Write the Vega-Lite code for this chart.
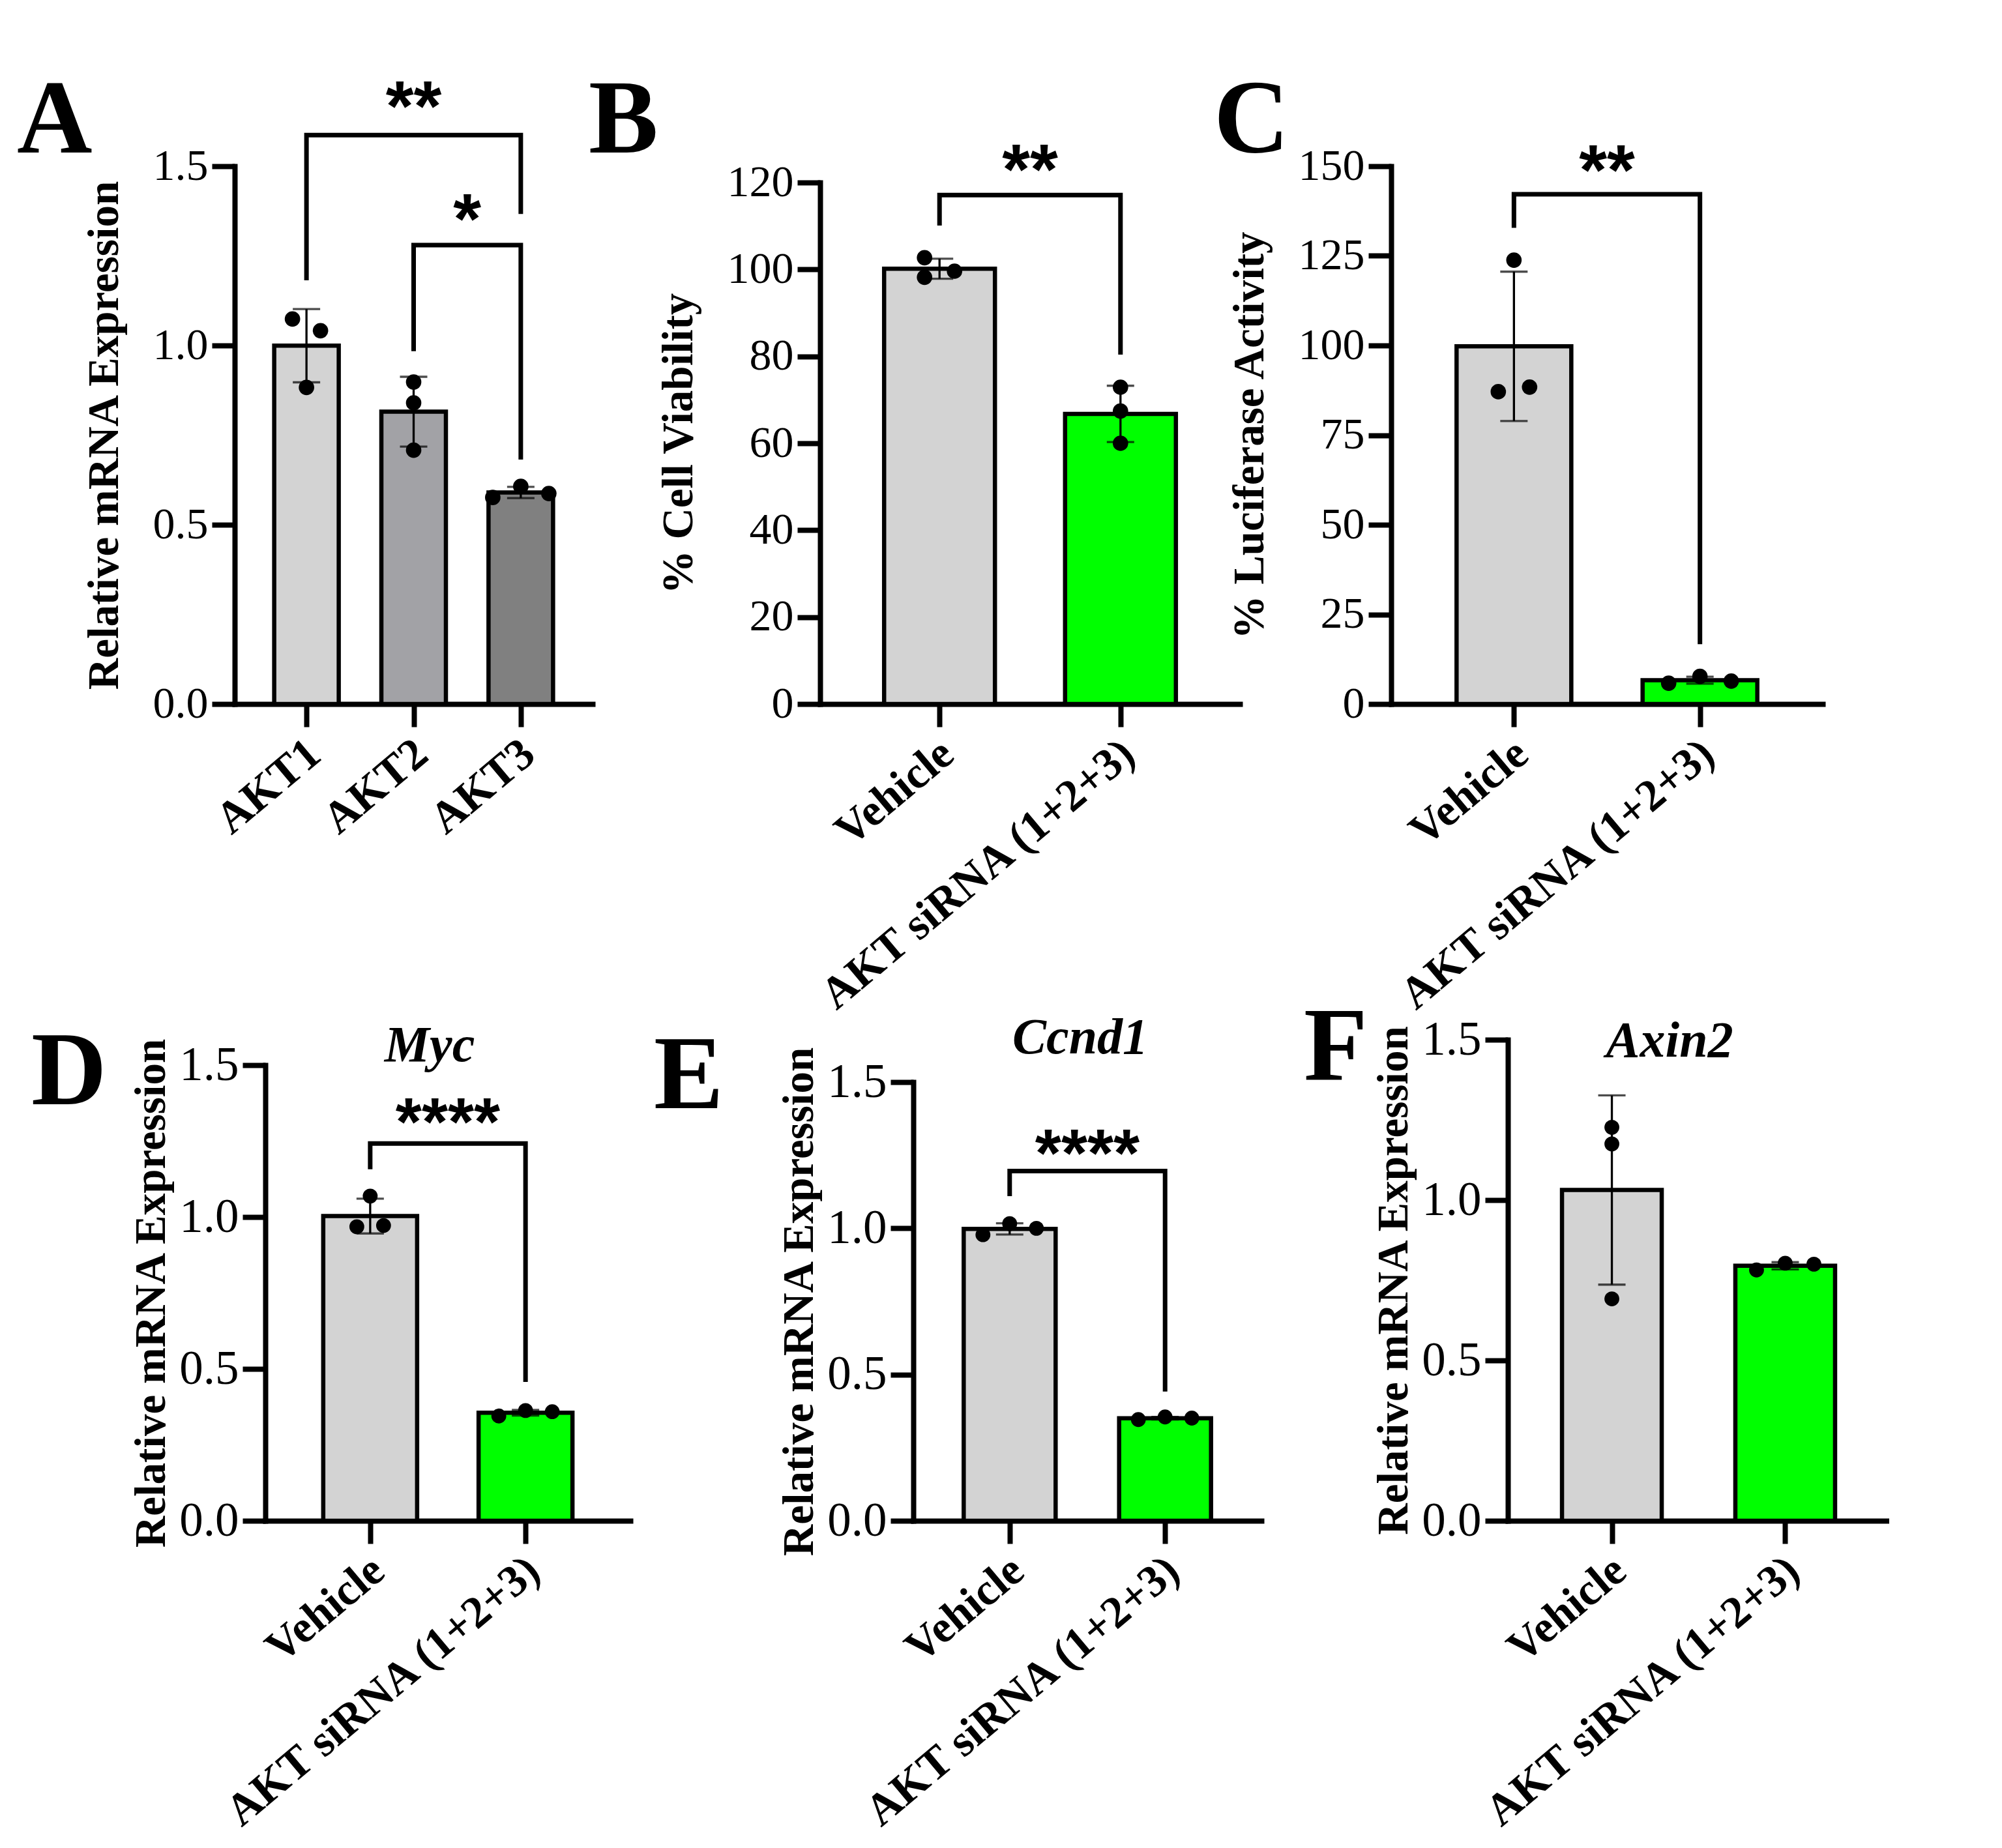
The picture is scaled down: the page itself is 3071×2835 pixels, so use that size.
{
  "$schema": "https://vega.github.io/schema/vega-lite/v6.json",
  "background": "white",
  "padding": {"left": 0, "top": 104, "right": 0, "bottom": 0},
  "config": {
    "font": "Liberation Serif",
    "view": {"stroke": null},
    "axis": {"grid": false, "domainColor": "#000", "domainWidth": 8, "domainCap": "square", "tickColor": "#000", "tickWidth": 8, "tickSize": 35, "labelColor": "#000", "labelFont": "Liberation Serif", "titleColor": "#000", "titleFont": "Liberation Serif", "titleFontWeight": "bold", "titleFontSize": 67, "labelLimit": 2000},
    "axisX": {"labelAngle": -40, "labelFontWeight": "bold", "labelFontSize": 69, "labelPadding": 6, "labelOffset": -10},
    "axisY": {"labelFontSize": 68, "labelPadding": 6, "titlePadding": 40},
    "title": {"font": "Liberation Serif", "fontSize": 160, "fontWeight": "bold", "color": "#000", "anchor": "start", "frame": "group", "baseline": "alphabetic", "offset": 0}
  },
  "datasets": {
    "pa": [
      {"g": "AKT1", "v": 1.074, "s": -1}, {"g": "AKT1", "v": 1.041, "s": 1}, {"g": "AKT1", "v": 0.883, "s": 0},
      {"g": "AKT2", "v": 0.898, "s": 0}, {"g": "AKT2", "v": 0.84, "s": 0}, {"g": "AKT2", "v": 0.708, "s": 0},
      {"g": "AKT3", "v": 0.576, "s": -2}, {"g": "AKT3", "v": 0.607, "s": 0}, {"g": "AKT3", "v": 0.587, "s": 2}
    ],
    "pb": [
      {"g": "Vehicle", "v": 102.7, "s": -1}, {"g": "Vehicle", "v": 98.2, "s": -1}, {"g": "Vehicle", "v": 99.6, "s": 1},
      {"g": "AKT siRNA (1+2+3)", "v": 72.9, "s": 0}, {"g": "AKT siRNA (1+2+3)", "v": 67.4, "s": 0}, {"g": "AKT siRNA (1+2+3)", "v": 60.0, "s": 0}
    ],
    "pc": [
      {"g": "Vehicle", "v": 123.8, "s": 0}, {"g": "Vehicle", "v": 87.1, "s": -1}, {"g": "Vehicle", "v": 88.4, "s": 1},
      {"g": "AKT siRNA (1+2+3)", "v": 5.8, "s": -2}, {"g": "AKT siRNA (1+2+3)", "v": 7.7, "s": 0}, {"g": "AKT siRNA (1+2+3)", "v": 6.4, "s": 2}
    ],
    "pd": [
      {"g": "Vehicle", "v": 1.069, "s": 0}, {"g": "Vehicle", "v": 0.968, "s": -1}, {"g": "Vehicle", "v": 0.972, "s": 1},
      {"g": "AKT siRNA (1+2+3)", "v": 0.345, "s": -2}, {"g": "AKT siRNA (1+2+3)", "v": 0.363, "s": 0}, {"g": "AKT siRNA (1+2+3)", "v": 0.359, "s": 2}
    ],
    "pe": [
      {"g": "Vehicle", "v": 0.978, "s": -2}, {"g": "Vehicle", "v": 1.016, "s": 0}, {"g": "Vehicle", "v": 1.0, "s": 2},
      {"g": "AKT siRNA (1+2+3)", "v": 0.346, "s": -2}, {"g": "AKT siRNA (1+2+3)", "v": 0.355, "s": 0}, {"g": "AKT siRNA (1+2+3)", "v": 0.351, "s": 2}
    ],
    "pf": [
      {"g": "Vehicle", "v": 1.227, "s": 0}, {"g": "Vehicle", "v": 1.175, "s": 0}, {"g": "Vehicle", "v": 0.692, "s": 0},
      {"g": "AKT siRNA (1+2+3)", "v": 0.782, "s": -2}, {"g": "AKT siRNA (1+2+3)", "v": 0.803, "s": 0}, {"g": "AKT siRNA (1+2+3)", "v": 0.8, "s": 2}
    ],
    "ba": [
      {"b": 1, "o": 1, "x": 0, "y": 1.182}, {"b": 1, "o": 2, "x": 0, "y": 1.587}, {"b": 1, "o": 3, "x": 2, "y": 1.587}, {"b": 1, "o": 4, "x": 2, "y": 1.367},
      {"b": 2, "o": 1, "x": 1, "y": 0.984}, {"b": 2, "o": 2, "x": 1, "y": 1.28}, {"b": 2, "o": 3, "x": 2, "y": 1.28}, {"b": 2, "o": 4, "x": 2, "y": 0.682}
    ],
    "bb": [{"b": 1, "o": 1, "x": 0, "y": 110.1}, {"b": 1, "o": 2, "x": 0, "y": 117.1}, {"b": 1, "o": 3, "x": 1, "y": 117.1}, {"b": 1, "o": 4, "x": 1, "y": 80.4}],
    "bc": [{"b": 1, "o": 1, "x": 0, "y": 132.8}, {"b": 1, "o": 2, "x": 0, "y": 142.2}, {"b": 1, "o": 3, "x": 1, "y": 142.2}, {"b": 1, "o": 4, "x": 1, "y": 16.7}],
    "bd": [{"b": 1, "o": 1, "x": 0, "y": 1.157}, {"b": 1, "o": 2, "x": 0, "y": 1.242}, {"b": 1, "o": 3, "x": 1, "y": 1.242}, {"b": 1, "o": 4, "x": 1, "y": 0.457}],
    "be": [{"b": 1, "o": 1, "x": 0, "y": 1.11}, {"b": 1, "o": 2, "x": 0, "y": 1.196}, {"b": 1, "o": 3, "x": 1, "y": 1.196}, {"b": 1, "o": 4, "x": 1, "y": 0.442}],
    "sa": [{"t": "**", "x": 1, "y": 1.6}, {"t": "*", "x": 1.5, "y": 1.286}],
    "sb": [{"t": "**", "x": 0.5, "y": 117.4}],
    "sc": [{"t": "**", "x": 0.5, "y": 142.2}],
    "sd": [{"t": "****", "x": 0.5, "y": 1.235}],
    "se": [{"t": "****", "x": 0.5, "y": 1.176}]
  },
  "columns": 6,
  "align": "each",
  "bounds": "flush",
  "spacing": {"row": 509, "column": 0},
  "resolve": {"scale": {"color": "independent", "xOffset": "independent"}},
  "concat": [
    {"width": 360, "height": 1, "data": {"values": []}, "mark": "point", "view": {"fill": "white"}},
    {
      "width": 549, "height": 825,
      "title": {"text": "A", "dx": -334, "dy": 160},
      "layer": [
        {"data": {"name": "pa"}, "mark": {"type": "bar", "stroke": "#000", "strokeWidth": 6.5, "width": 99},
         "encoding": {
           "x": {"field": "g", "type": "nominal", "sort": null, "scale": {"type": "point", "padding": 0.67}, "axis": {"title": null}},
           "y": {"field": "v", "aggregate": "mean", "type": "quantitative", "scale": {"domain": [0, 1.5], "nice": false}, "axis": {"title": "Relative mRNA Expression", "values": [0, 0.5, 1, 1.5], "format": ".1f"}},
           "color": {"field": "g", "type": "nominal", "scale": {"domain": ["AKT1", "AKT2", "AKT3"], "range": ["#d3d3d3", "#a2a2a6", "#808080"]}, "legend": null}}},
        {"data": {"name": "pa"}, "mark": {"type": "errorbar", "extent": "stdev", "color": "#000", "ticks": {"size": 42, "thickness": 3.3}, "rule": {"strokeWidth": 3.3}},
         "encoding": {"x": {"field": "g", "type": "nominal", "sort": null, "scale": {"type": "point", "padding": 0.67}, "axis": null}, "y": {"field": "v", "type": "quantitative", "scale": {"domain": [0, 1.5], "nice": false}, "axis": null}}},
        {"data": {"name": "pa"}, "mark": {"type": "point", "filled": true, "size": 560, "color": "#000", "opacity": 1},
         "encoding": {"x": {"field": "g", "type": "nominal", "sort": null, "scale": {"type": "point", "padding": 0.67}, "axis": null}, "xOffset": {"field": "s", "type": "quantitative", "scale": {"domain": [-2, 2], "range": [-43, 43]}}, "y": {"field": "v", "type": "quantitative", "scale": {"domain": [0, 1.5], "nice": false}, "axis": null}}},
        {"layer": [
          {"data": {"name": "ba"}, "mark": {"type": "line", "color": "#000", "strokeWidth": 7, "strokeJoin": "miter", "strokeCap": "butt"},
           "encoding": {"x": {"field": "x", "type": "quantitative", "scale": {"domain": [-0.67, 2.67], "nice": false, "zero": false}, "axis": null}, "y": {"field": "y", "type": "quantitative", "scale": {"domain": [0, 1.5], "nice": false}, "axis": null}, "detail": {"field": "b"}, "order": {"field": "o"}}},
          {"data": {"name": "sa"}, "mark": {"type": "text", "font": "Liberation Sans", "fontWeight": "bold", "fontSize": 110, "baseline": "alphabetic", "align": "center", "color": "#000"},
           "encoding": {"x": {"field": "x", "type": "quantitative", "axis": null}, "y": {"field": "y", "type": "quantitative", "axis": null}, "text": {"field": "t"}}}
        ]}
      ],
      "resolve": {"scale": {"x": "independent", "y": "independent"}, "axis": {"x": "independent", "y": "independent"}}
    },
    {"width": 291, "height": 1, "data": {"values": []}, "mark": "point", "view": {"fill": "white"}},
    {
      "width": 644, "height": 825,
      "title": {"text": "B", "dx": -355, "dy": 63},
      "layer": [
        {"data": {"name": "pb"}, "mark": {"type": "bar", "stroke": "#000", "strokeWidth": 6.5, "width": 170},
         "encoding": {
           "x": {"field": "g", "type": "nominal", "sort": null, "scale": {"type": "point", "padding": 0.66}, "axis": {"title": null}},
           "y": {"field": "v", "aggregate": "mean", "type": "quantitative", "scale": {"domain": [0, 120], "range": [825, 25], "nice": false}, "axis": {"title": "% Cell Viability", "values": [0, 20, 40, 60, 80, 100, 120], "format": "d"}},
           "color": {"field": "g", "type": "nominal", "scale": {"domain": ["Vehicle", "AKT siRNA (1+2+3)"], "range": ["#d3d3d3", "#00ff00"]}, "legend": null}}},
        {"data": {"name": "pb"}, "mark": {"type": "errorbar", "extent": "stdev", "color": "#000", "ticks": {"size": 42, "thickness": 3.3}, "rule": {"strokeWidth": 3.3}},
         "encoding": {"x": {"field": "g", "type": "nominal", "sort": null, "scale": {"type": "point", "padding": 0.66}, "axis": null}, "y": {"field": "v", "type": "quantitative", "scale": {"domain": [0, 120], "range": [825, 25], "nice": false}, "axis": null}}},
        {"data": {"name": "pb"}, "mark": {"type": "point", "filled": true, "size": 560, "color": "#000", "opacity": 1},
         "encoding": {"x": {"field": "g", "type": "nominal", "sort": null, "scale": {"type": "point", "padding": 0.66}, "axis": null}, "xOffset": {"field": "s", "type": "quantitative", "scale": {"domain": [-2, 2], "range": [-46, 46]}}, "y": {"field": "v", "type": "quantitative", "scale": {"domain": [0, 120], "range": [825, 25], "nice": false}, "axis": null}}},
        {"layer": [
          {"data": {"name": "bb"}, "mark": {"type": "line", "color": "#000", "strokeWidth": 7, "strokeJoin": "miter", "strokeCap": "butt"},
           "encoding": {"x": {"field": "x", "type": "quantitative", "scale": {"domain": [-0.66, 1.66], "nice": false, "zero": false}, "axis": null}, "y": {"field": "y", "type": "quantitative", "scale": {"domain": [0, 120], "range": [825, 25], "nice": false}, "axis": null}, "detail": {"field": "b"}, "order": {"field": "o"}}},
          {"data": {"name": "sb"}, "mark": {"type": "text", "font": "Liberation Sans", "fontWeight": "bold", "fontSize": 110, "baseline": "alphabetic", "align": "center", "color": "#000"},
           "encoding": {"x": {"field": "x", "type": "quantitative", "axis": null}, "y": {"field": "y", "type": "quantitative", "axis": null}, "text": {"field": "t"}}}
        ]}
      ],
      "resolve": {"scale": {"x": "independent", "y": "independent"}, "axis": {"x": "independent", "y": "independent"}}
    },
    {"width": 199, "height": 1, "data": {"values": []}, "mark": "point", "view": {"fill": "white"}},
    {
      "width": 662, "height": 825,
      "title": {"text": "C", "dx": -272, "dy": 61},
      "layer": [
        {"data": {"name": "pc"}, "mark": {"type": "bar", "stroke": "#000", "strokeWidth": 6.5, "width": 176},
         "encoding": {
           "x": {"field": "g", "type": "nominal", "sort": null, "scale": {"type": "point", "padding": 0.66}, "axis": {"title": null}},
           "y": {"field": "v", "aggregate": "mean", "type": "quantitative", "scale": {"domain": [0, 150], "nice": false}, "axis": {"title": "% Luciferase Activity", "values": [0, 25, 50, 75, 100, 125, 150], "format": "d"}},
           "color": {"field": "g", "type": "nominal", "scale": {"domain": ["Vehicle", "AKT siRNA (1+2+3)"], "range": ["#d3d3d3", "#00ff00"]}, "legend": null}}},
        {"data": {"name": "pc"}, "mark": {"type": "errorbar", "extent": "stdev", "color": "#000", "ticks": {"size": 42, "thickness": 3.3}, "rule": {"strokeWidth": 3.3}},
         "encoding": {"x": {"field": "g", "type": "nominal", "sort": null, "scale": {"type": "point", "padding": 0.66}, "axis": null}, "y": {"field": "v", "type": "quantitative", "scale": {"domain": [0, 150], "nice": false}, "axis": null}}},
        {"data": {"name": "pc"}, "mark": {"type": "point", "filled": true, "size": 560, "color": "#000", "opacity": 1},
         "encoding": {"x": {"field": "g", "type": "nominal", "sort": null, "scale": {"type": "point", "padding": 0.66}, "axis": null}, "xOffset": {"field": "s", "type": "quantitative", "scale": {"domain": [-2, 2], "range": [-48, 48]}}, "y": {"field": "v", "type": "quantitative", "scale": {"domain": [0, 150], "nice": false}, "axis": null}}},
        {"layer": [
          {"data": {"name": "bc"}, "mark": {"type": "line", "color": "#000", "strokeWidth": 7, "strokeJoin": "miter", "strokeCap": "butt"},
           "encoding": {"x": {"field": "x", "type": "quantitative", "scale": {"domain": [-0.66, 1.66], "nice": false, "zero": false}, "axis": null}, "y": {"field": "y", "type": "quantitative", "scale": {"domain": [0, 150], "nice": false}, "axis": null}, "detail": {"field": "b"}, "order": {"field": "o"}}},
          {"data": {"name": "sc"}, "mark": {"type": "text", "font": "Liberation Sans", "fontWeight": "bold", "fontSize": 110, "baseline": "alphabetic", "align": "center", "color": "#000"},
           "encoding": {"x": {"field": "x", "type": "quantitative", "axis": null}, "y": {"field": "y", "type": "quantitative", "axis": null}, "text": {"field": "t"}}}
        ]}
      ],
      "resolve": {"scale": {"x": "independent", "y": "independent"}, "axis": {"x": "independent", "y": "independent"}}
    },
    {"width": 360, "height": 1, "data": {"values": []}, "mark": "point", "view": {"fill": "white"}},
    {
      "width": 607, "height": 744,
      "title": {"text": "D", "dx": -312, "dy": 166},
      "layer": [
        {"data": {"name": "pd"}, "mark": {"type": "bar", "stroke": "#000", "strokeWidth": 6.5, "width": 144},
         "encoding": {
           "x": {"field": "g", "type": "nominal", "sort": null, "scale": {"type": "point", "padding": 0.675, "range": [47, 607]}, "axis": {"title": null}},
           "y": {"field": "v", "aggregate": "mean", "type": "quantitative", "scale": {"domain": [0, 1.5], "range": [744, 45], "nice": false}, "axis": {"title": "Relative mRNA Expression", "values": [0, 0.5, 1, 1.5], "format": ".1f", "labelFontSize": 73, "titlePadding": 8, "offset": -47}},
           "color": {"field": "g", "type": "nominal", "scale": {"domain": ["Vehicle", "AKT siRNA (1+2+3)"], "range": ["#d3d3d3", "#00ff00"]}, "legend": null}}},
        {"data": {"name": "pd"}, "mark": {"type": "errorbar", "extent": "stdev", "color": "#000", "ticks": {"size": 42, "thickness": 3.3}, "rule": {"strokeWidth": 3.3}},
         "encoding": {"x": {"field": "g", "type": "nominal", "sort": null, "scale": {"type": "point", "padding": 0.675, "range": [47, 607]}, "axis": null}, "y": {"field": "v", "type": "quantitative", "scale": {"domain": [0, 1.5], "range": [744, 45], "nice": false}, "axis": null}}},
        {"data": {"name": "pd"}, "mark": {"type": "point", "filled": true, "size": 520, "color": "#000", "opacity": 1},
         "encoding": {"x": {"field": "g", "type": "nominal", "sort": null, "scale": {"type": "point", "padding": 0.675, "range": [47, 607]}, "axis": null}, "xOffset": {"field": "s", "type": "quantitative", "scale": {"domain": [-2, 2], "range": [-41, 41]}}, "y": {"field": "v", "type": "quantitative", "scale": {"domain": [0, 1.5], "range": [744, 45], "nice": false}, "axis": null}}},
        {"layer": [
          {"data": {"name": "bd"}, "mark": {"type": "line", "color": "#000", "strokeWidth": 7, "strokeJoin": "miter", "strokeCap": "butt"},
           "encoding": {"x": {"field": "x", "type": "quantitative", "scale": {"domain": [-0.675, 1.675], "range": [47, 607], "nice": false, "zero": false}, "axis": null}, "y": {"field": "y", "type": "quantitative", "scale": {"domain": [0, 1.5], "range": [744, 45], "nice": false}, "axis": null}, "detail": {"field": "b"}, "order": {"field": "o"}}},
          {"data": {"name": "sd"}, "mark": {"type": "text", "font": "Liberation Sans", "fontWeight": "bold", "fontSize": 103, "baseline": "alphabetic", "align": "center", "color": "#000"},
           "encoding": {"x": {"field": "x", "type": "quantitative", "axis": null}, "y": {"field": "y", "type": "quantitative", "axis": null}, "text": {"field": "t"}}},
          {"data": {"values": [{"t": "Myc"}]}, "mark": {"type": "text", "font": "Liberation Serif", "fontStyle": "italic", "fontWeight": "bold", "fontSize": 78, "baseline": "alphabetic", "align": "center", "color": "#000"},
           "encoding": {"x": {"datum": 0.3825, "type": "quantitative", "axis": null}, "y": {"datum": 1.513, "type": "quantitative", "axis": null}, "text": {"field": "t"}}}
        ]}
      ],
      "resolve": {"scale": {"x": "independent", "y": "independent"}, "axis": {"x": "independent", "y": "independent"}}
    },
    {"width": 291, "height": 1, "data": {"values": []}, "mark": "point", "view": {"fill": "white"}},
    {
      "width": 677, "height": 744,
      "title": {"text": "E", "dx": -255, "dy": 184},
      "layer": [
        {"data": {"name": "pe"}, "mark": {"type": "bar", "stroke": "#000", "strokeWidth": 6.5, "width": 141},
         "encoding": {
           "x": {"field": "g", "type": "nominal", "sort": null, "scale": {"type": "point", "padding": 0.62, "range": [143, 677]}, "axis": {"title": null}},
           "y": {"field": "v", "aggregate": "mean", "type": "quantitative", "scale": {"domain": [0, 1.5], "range": [744, 71], "nice": false}, "axis": {"title": "Relative mRNA Expression", "values": [0, 0.5, 1, 1.5], "format": ".1f", "labelFontSize": 73, "titlePadding": 8, "offset": -143}},
           "color": {"field": "g", "type": "nominal", "scale": {"domain": ["Vehicle", "AKT siRNA (1+2+3)"], "range": ["#d3d3d3", "#00ff00"]}, "legend": null}}},
        {"data": {"name": "pe"}, "mark": {"type": "errorbar", "extent": "stdev", "color": "#000", "ticks": {"size": 42, "thickness": 3.3}, "rule": {"strokeWidth": 3.3}},
         "encoding": {"x": {"field": "g", "type": "nominal", "sort": null, "scale": {"type": "point", "padding": 0.62, "range": [143, 677]}, "axis": null}, "y": {"field": "v", "type": "quantitative", "scale": {"domain": [0, 1.5], "range": [744, 71], "nice": false}, "axis": null}}},
        {"data": {"name": "pe"}, "mark": {"type": "point", "filled": true, "size": 520, "color": "#000", "opacity": 1},
         "encoding": {"x": {"field": "g", "type": "nominal", "sort": null, "scale": {"type": "point", "padding": 0.62, "range": [143, 677]}, "axis": null}, "xOffset": {"field": "s", "type": "quantitative", "scale": {"domain": [-2, 2], "range": [-41, 41]}}, "y": {"field": "v", "type": "quantitative", "scale": {"domain": [0, 1.5], "range": [744, 71], "nice": false}, "axis": null}}},
        {"layer": [
          {"data": {"name": "be"}, "mark": {"type": "line", "color": "#000", "strokeWidth": 7, "strokeJoin": "miter", "strokeCap": "butt"},
           "encoding": {"x": {"field": "x", "type": "quantitative", "scale": {"domain": [-0.62, 1.62], "range": [143, 677], "nice": false, "zero": false}, "axis": null}, "y": {"field": "y", "type": "quantitative", "scale": {"domain": [0, 1.5], "range": [744, 71], "nice": false}, "axis": null}, "detail": {"field": "b"}, "order": {"field": "o"}}},
          {"data": {"name": "se"}, "mark": {"type": "text", "font": "Liberation Sans", "fontWeight": "bold", "fontSize": 103, "baseline": "alphabetic", "align": "center", "color": "#000"},
           "encoding": {"x": {"field": "x", "type": "quantitative", "axis": null}, "y": {"field": "y", "type": "quantitative", "axis": null}, "text": {"field": "t"}}},
          {"data": {"values": [{"t": "Ccnd1"}]}, "mark": {"type": "text", "font": "Liberation Serif", "fontStyle": "italic", "fontWeight": "bold", "fontSize": 78, "baseline": "alphabetic", "align": "center", "color": "#000"},
           "encoding": {"x": {"datum": 0.454, "type": "quantitative", "axis": null}, "y": {"datum": 1.598, "type": "quantitative", "axis": null}, "text": {"field": "t"}}}
        ]}
      ],
      "resolve": {"scale": {"x": "independent", "y": "independent"}, "axis": {"x": "independent", "y": "independent"}}
    },
    {"width": 199, "height": 1, "data": {"values": []}, "mark": "point", "view": {"fill": "white"}},
    {
      "width": 764, "height": 744,
      "title": {"text": "F", "dx": -134, "dy": 136},
      "layer": [
        {"data": {"name": "pf"}, "mark": {"type": "bar", "stroke": "#000", "strokeWidth": 6.5, "width": 153},
         "encoding": {
           "x": {"field": "g", "type": "nominal", "sort": null, "scale": {"type": "point", "padding": 0.6, "range": [179, 764]}, "axis": {"title": null}},
           "y": {"field": "v", "aggregate": "mean", "type": "quantitative", "scale": {"domain": [0, 1.5], "range": [744, 6], "nice": false}, "axis": {"title": "Relative mRNA Expression", "values": [0, 0.5, 1, 1.5], "format": ".1f", "labelFontSize": 73, "titlePadding": 8, "offset": -179}},
           "color": {"field": "g", "type": "nominal", "scale": {"domain": ["Vehicle", "AKT siRNA (1+2+3)"], "range": ["#d3d3d3", "#00ff00"]}, "legend": null}}},
        {"data": {"name": "pf"}, "mark": {"type": "errorbar", "extent": "stdev", "color": "#000", "ticks": {"size": 42, "thickness": 3.3}, "rule": {"strokeWidth": 3.3}},
         "encoding": {"x": {"field": "g", "type": "nominal", "sort": null, "scale": {"type": "point", "padding": 0.6, "range": [179, 764]}, "axis": null}, "y": {"field": "v", "type": "quantitative", "scale": {"domain": [0, 1.5], "range": [744, 6], "nice": false}, "axis": null}}},
        {"data": {"name": "pf"}, "mark": {"type": "point", "filled": true, "size": 520, "color": "#000", "opacity": 1},
         "encoding": {"x": {"field": "g", "type": "nominal", "sort": null, "scale": {"type": "point", "padding": 0.6, "range": [179, 764]}, "axis": null}, "xOffset": {"field": "s", "type": "quantitative", "scale": {"domain": [-2, 2], "range": [-44, 44]}}, "y": {"field": "v", "type": "quantitative", "scale": {"domain": [0, 1.5], "range": [744, 6], "nice": false}, "axis": null}}},
        {"data": {"values": [{"t": "Axin2"}]}, "mark": {"type": "text", "font": "Liberation Serif", "fontStyle": "italic", "fontWeight": "bold", "fontSize": 78, "baseline": "alphabetic", "align": "center", "color": "#000"},
         "encoding": {"x": {"datum": 0.333, "type": "quantitative", "scale": {"domain": [-0.6, 1.6], "range": [179, 764], "nice": false, "zero": false}, "axis": null}, "y": {"datum": 1.447, "type": "quantitative", "scale": {"domain": [0, 1.5], "range": [744, 6], "nice": false}, "axis": null}, "text": {"field": "t"}}}
      ],
      "resolve": {"scale": {"x": "independent", "y": "independent"}, "axis": {"x": "independent", "y": "independent"}}
    }
  ]
}
